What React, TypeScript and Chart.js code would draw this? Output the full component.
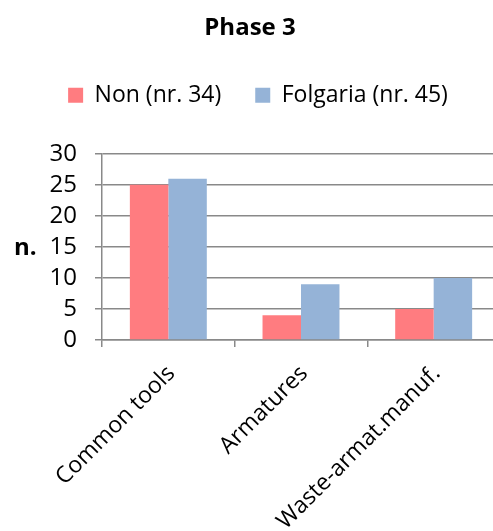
import React, { useEffect, useRef } from "react";
import { Chart, registerables } from "chart.js";

Chart.register(...registerables);

const categories = ["Common tools", "Armatures", "Waste-armat.manuf."];
const nonValues = [25, 4, 5];
const folgariaValues = [26, 9, 10];
const seriesLabels = ["Non (nr. 34)", "Folgaria (nr. 45)"];
const yTicks = [0, 5, 10, 15, 20, 25, 30];
const titleText = "Phase 3";
const yTitle = "n.";

const FONT = "'Open Sans', 'DejaVu Sans', sans-serif";

const yTitlePlugin = {
  id: "yTitleHorizontal",
  afterDraw(chart: any) {
    const { ctx, chartArea } = chart;
    ctx.save();
    ctx.font = `bold 24px ${FONT}`;
    ctx.fillStyle = "#000";
    ctx.textAlign = "left";
    ctx.textBaseline = "middle";
    ctx.fillText(yTitle, 14, (chartArea.top + chartArea.bottom) / 2 + 1);
    ctx.restore();
  },
};

const legendSpacingPlugin = {
  id: "legendSpacing",
  beforeInit(chart: any) {
    const legend = chart.legend;
    if (!legend) return;
    const origFit = legend.fit;
    legend.fit = function () {
      origFit.call(this);
      this.height += 37;
    };
  },
  afterLayout(chart: any) {
    const legend = chart.legend;
    if (!legend) return;
    legend.left += 8;
    legend.right += 8;
  },
};

export default function App() {
  const ref = useRef<HTMLCanvasElement | null>(null);
  useEffect(() => {
    if (!ref.current) return;
    const chart = new Chart(ref.current, {
      type: "bar",
      data: {
        labels: categories,
        datasets: [
          {
            label: seriesLabels[0],
            data: nonValues,
            backgroundColor: "#FF7C80",
            barPercentage: 1,
            categoryPercentage: 0.58,
          },
          {
            label: seriesLabels[1],
            data: folgariaValues,
            backgroundColor: "#95B3D7",
            barPercentage: 1,
            categoryPercentage: 0.58,
          },
        ],
      },
      options: {
        animation: false,
        responsive: true,
        maintainAspectRatio: false,
        layout: { padding: { left: 0, right: 0, top: 0, bottom: 0 } },
        plugins: {
          title: {
            display: true,
            text: titleText,
            color: "#000",
            font: { family: FONT, size: 24, weight: "bold" },
            padding: { top: 14, bottom: 7 },
          },
          legend: {
            display: true,
            position: "top",
            labels: {
              color: "#000",
              font: { family: FONT, size: 23 },
              boxWidth: 15,
              boxHeight: 15,
              padding: 34,
            },
          },
          tooltip: { enabled: false },
        },
        scales: {
          x: {
            offset: true,
            grid: {
              display: true,
              offset: true,
              drawOnChartArea: false,
              drawTicks: true,
              tickLength: 7,
              color: "#898989",
              lineWidth: 1.5,
            },
            border: { display: true, color: "#898989", width: 1.5 },
            ticks: {
              color: "#000",
              font: { family: FONT, size: 23 },
              minRotation: 45,
              maxRotation: 45,
              padding: 13,
              labelOffset: 3,
              autoSkip: false,
            },
            afterFit(scale: any) {
              scale.height = 191;
            },
          },
          y: {
            min: 0,
            max: 30,
            afterBuildTicks(scale: any) {
              scale.ticks = yTicks.map((v) => ({ value: v }));
            },
            grid: {
              color: "#898989",
              lineWidth: 1.5,
              drawTicks: true,
              tickLength: 7,
            },
            border: { display: true, color: "#898989", width: 1.5 },
            ticks: {
              color: "#000",
              font: { family: FONT, size: 24 },
              padding: 18,
              autoSkip: false,
            },
            afterFit(scale: any) {
              scale.width = 102;
            },
          },
        },
      },
      plugins: [yTitlePlugin, legendSpacingPlugin],
    });
    return () => chart.destroy();
  }, []);

  return (
    <div
      style={{
        position: "absolute",
        left: 0,
        top: 0,
        width: 493,
        height: 531,
        overflow: "hidden",
        background: "#fff",
      }}
    >
      <div style={{ position: "relative", width: 500, height: 531 }}>
        <canvas ref={ref} />
      </div>
    </div>
  );
}
